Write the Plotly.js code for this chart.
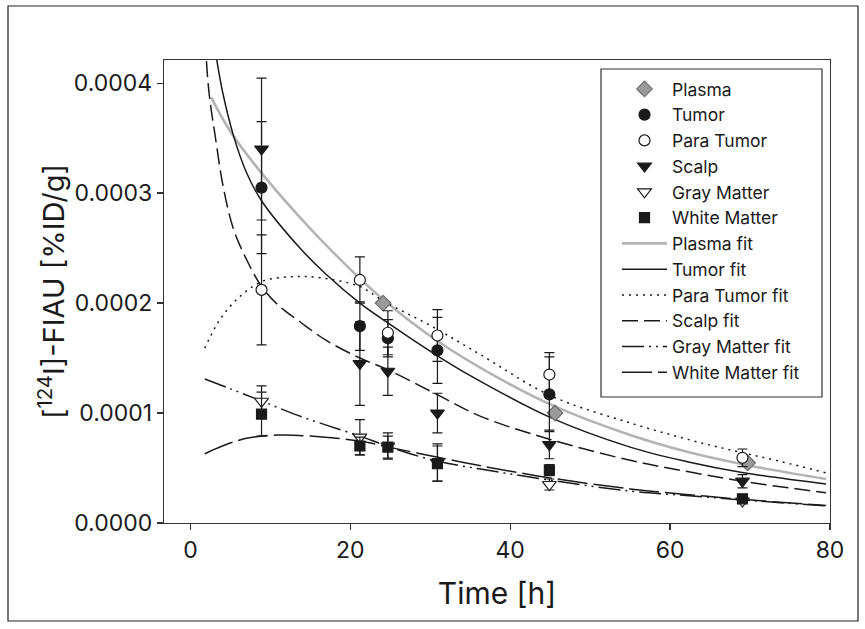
<!DOCTYPE html>
<html>
<head>
<meta charset="utf-8">
<script src="https://cdn.plot.ly/plotly-3.0.1.min.js"></script>
<style>html,body{margin:0;padding:0;background:#fff;}#chart{width:865px;height:629px;}</style>
</head>
<body>
<div id="chart"></div>
<script>
// ---- measured data (values in %ID/g) ----
const tPlasma = [24.1, 45.6, 69.7];
const vPlasma = [0.000200, 0.000100, 0.0000547];

const tTumor = [8.9, 21.2, 24.7, 30.9, 44.9];
const vTumor = [0.000305, 0.000179, 0.000168, 0.000157, 0.000117];
const eTumor = [0.000060, 0.000022, 0.000017, 0.000030, 0.000034];

const tTissue = [8.9, 21.2, 24.7, 30.9, 44.9, 69.05];
const vPara = [0.000212, 0.000221, 0.000173, 0.0001705, 0.000135, 0.0000593];
const ePara = [0.000050, 0.000021, 0.000020, 0.0000235, 0.000020, 0.000008];

const vScalp = [0.000340, 0.000145, 0.000138, 0.000100, 0.0000714, 0.000038];
const eScalp = [0.0000645, 0.000038, 0.000022, 0.000018, 0.000013, 0.000006];

const vGray = [0.0001107, 0.000078, 0.000070, 0.000055, 0.000035, 0.000020];
const eGray = [0.000014, 0.000016, 0.000012, 0.000017, 0.000005, 0.000002];

const vWhite = [0.000099, 0.000070, 0.000069, 0.000054, 0.000048, 0.000022];
const eWhite = [0.000020, 0.000008, 0.000010, 0.000016, 0.000005, 0.000002];

// fitted curves
const tPlasmaFit = [2.6, 5, 8.7, 13.7, 18.7, 24, 31, 38, 45.6, 55, 62, 69.7, 79.5];
const vPlasmaFit = [0.000387, 0.000356, 0.000320, 0.000278, 0.000240, 0.000204, 0.000165, 0.000134, 0.000106, 0.000080, 0.000065, 0.0000525, 0.000040];

const tTumorFit = [3.0, 3.3, 4.0, 5.4, 7.0, 8.9, 13.7, 17, 21.2, 24.7, 30.9, 35, 45, 55, 62, 69, 79.5];
const vTumorFit = [0.000436, 0.000421, 0.000393, 0.000352, 0.000319, 0.000293, 0.000250, 0.000226, 0.000200, 0.000182, 0.000152, 0.000134, 0.000096, 0.000069, 0.000056, 0.000046, 0.0000355];

const tParaFit = [1.8, 3.7, 6.2, 9.1, 12.9, 16.2, 21.2, 24.1, 30.4, 36.3, 45, 55, 63.8, 69, 73.8, 79.5];
const vParaFit = [0.000159, 0.000185, 0.000206, 0.000220, 0.000224, 0.000223, 0.000215, 0.000202, 0.000178, 0.000153, 0.000116, 0.000091, 0.000073, 0.000064, 0.000056, 0.0000456];

const tScalpFit = [1.8, 2.0, 2.4, 3.1, 4.1, 5.4, 7.0, 8.9, 11, 13.7, 17, 21.2, 24.8, 30.8, 36.3, 45, 55, 62, 69, 79.5];
const vScalpFit = [0.000460, 0.000421, 0.000387, 0.000352, 0.000306, 0.000267, 0.000240, 0.000215, 0.000198, 0.000183, 0.000166, 0.000150, 0.000139, 0.000117, 0.000097, 0.000076, 0.000057, 0.000047, 0.000038, 0.0000275];

const tGrayFit = [1.8, 5, 8.9, 13, 17, 21.2, 24.6, 30.4, 36.3, 45, 55, 62, 69, 79.5];
const vGrayFit = [0.000131, 0.000122, 0.000111, 0.000099, 0.000089, 0.000079, 0.000070, 0.000057, 0.000049, 0.000039, 0.000029, 0.000025, 0.000021, 0.0000155];

const tWhiteFit = [1.8, 4, 7, 11, 15, 21.2, 24.8, 30.8, 36.3, 45, 55, 62, 69, 79.5];
const vWhiteFit = [0.000063, 0.000070, 0.000077, 0.000080, 0.000079, 0.0000745, 0.000069, 0.000060, 0.000052, 0.000041, 0.000031, 0.000026, 0.0000215, 0.000016];

const yTicks = [0, 0.0001, 0.0002, 0.0003, 0.0004];
const xTicks = [0, 20, 40, 60, 80];

// ---- styling ----
const ink = '#1a1a1a';
const FONT = 'Inter, "Liberation Sans", Arial, sans-serif';
const errStyle = (arr) => ({type: 'data', array: arr, visible: true, color: ink, thickness: 1.2, width: 5});
const fit = (name, x, y, color, width, dash, rank) => ({
  type: 'scatter', mode: 'lines', name: name, x: x, y: y,
  line: {color: color, width: width, dash: dash, shape: 'spline', smoothing: 1},
  legendrank: rank
});
const pts = (name, x, y, err, symbol, size, fill, lineColor, rank) => {
  const tr = {
    type: 'scatter', mode: 'markers', name: name, x: x, y: y,
    marker: {symbol: symbol, size: size, color: fill, line: {color: lineColor, width: 1.2}},
    legendrank: rank
  };
  if (err) tr.error_y = errStyle(err);
  return tr;
};

const traces = [
  fit('Plasma fit', tPlasmaFit, vPlasmaFit, '#b4b4b4', 2.6, 'solid', 7),
  fit('Tumor fit', tTumorFit, vTumorFit, ink, 1.5, 'solid', 8),
  fit('Para Tumor fit', tParaFit, vParaFit, ink, 1.5, '2px,5px', 9),
  fit('Scalp fit', tScalpFit, vScalpFit, ink, 1.5, '16px,6px', 10),
  fit('Gray Matter fit', tGrayFit, vGrayFit, ink, 1.5, '22px,5px,2px,5px,2px,5px', 11),
  fit('White Matter fit', tWhiteFit, vWhiteFit, ink, 1.5, '30px,6px', 12),
  pts('Plasma', tPlasma, vPlasma, null, 'diamond', 12, '#9a9a9a', '#6e6e6e', 1),
  pts('Tumor', tTumor, vTumor, eTumor, 'circle', 11, ink, ink, 2),
  pts('Para Tumor', tTissue, vPara, ePara, 'circle', 11, '#ffffff', ink, 3),
  pts('Scalp', tTissue, vScalp, eScalp, 'triangle-down', 12, ink, ink, 4),
  pts('Gray Matter', tTissue, vGray, eGray, 'triangle-down', 12, '#ffffff', ink, 5),
  pts('White Matter', tTissue, vWhite, eWhite, 'square', 10, ink, ink, 6)
];

const plotL = 164, plotR = 830, plotT = 60, plotB = 523;
const pw = plotR - plotL, ph = plotB - plotT;
const px = (v) => (v - plotL) / pw;
const py = (v) => (plotB - v) / ph;

const layout = {
  width: 865, height: 629,
  margin: {l: plotL, r: 865 - plotR, t: plotT, b: 629 - plotB, pad: 0},
  paper_bgcolor: '#ffffff', plot_bgcolor: '#ffffff',
  font: {family: FONT, color: ink},
  showlegend: true,
  legend: {
    x: px(617), y: py(71), xanchor: 'left', yanchor: 'top',
    bgcolor: 'rgba(0,0,0,0)', borderwidth: 0,
    font: {family: FONT, size: 17.5, color: ink}, itemwidth: 45, traceorder: 'normal'
  },
  xaxis: {
    range: [-3.3, 80], tickvals: xTicks, ticktext: xTicks.map(String),
    ticks: 'outside', ticklen: 6, tickwidth: 1.2, tickcolor: '#333',
    showline: true, mirror: true, linecolor: '#333', linewidth: 1.2,
    showgrid: false, zeroline: false, automargin: false,
    tickfont: {family: FONT, size: 23, color: ink},
    title: {text: 'Time [h]', font: {family: FONT, size: 30, color: ink}, standoff: 20}
  },
  yaxis: {
    range: [0, 0.000421], tickvals: yTicks, tickformat: '.4f',
    ticks: 'outside', ticklen: 6, tickwidth: 1.2, tickcolor: '#333',
    showline: true, mirror: true, linecolor: '#333', linewidth: 1.2,
    showgrid: false, zeroline: false, automargin: false,
    tickfont: {family: FONT, size: 23, color: ink},
    title: {text: '[<sup>124</sup>I]-FIAU [%ID/g]', font: {family: FONT, size: 29, color: ink}, standoff: 0}
  },
  shapes: [
    {
      type: 'rect', xref: 'paper', yref: 'paper',
      x0: px(8), x1: px(858), y0: py(621), y1: py(6),
      line: {color: '#222', width: 1.2}, fillcolor: 'rgba(0,0,0,0)', layer: 'below'
    },
    {
      type: 'rect', xref: 'paper', yref: 'paper',
      x0: px(601), x1: px(822), y0: py(397), y1: py(69),
      line: {color: '#333', width: 1.2}, fillcolor: '#ffffff', layer: 'below'
    }
  ]
};

Plotly.newPlot('chart', traces, layout, {displayModeBar: false, staticPlot: true});
</script>
</body>
</html>
